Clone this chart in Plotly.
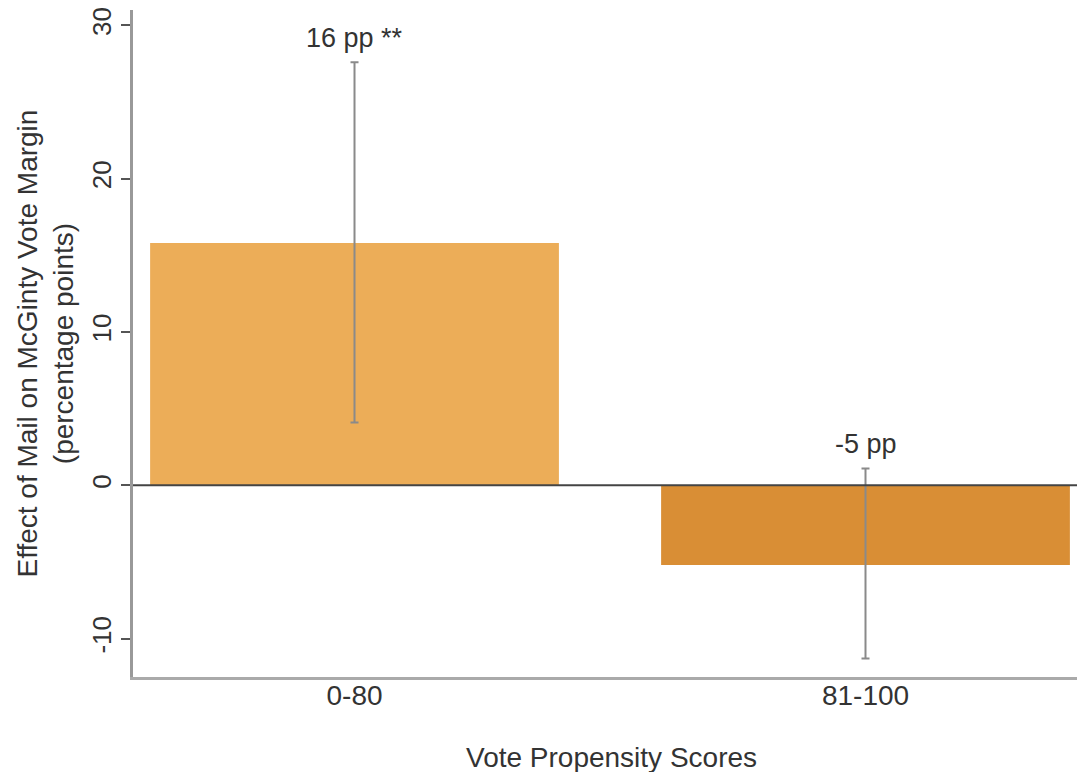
import plotly.graph_objects as go

# Effect estimates by vote-propensity group, with 95% interval bounds
groups = ["0-80", "81-100"]
effects = [15.8, -5.2]
upper = [27.6, 1.1]
lower = [4.1, -11.3]
stars = ["**", ""]
bar_colors = ["#ECAD58", "#D98E35"]

# Y-axis ticks (hyphen minus, as typeset on the axis)
y_ticks = [-10, 0, 10, 20, 30]
y_tick_text = ["-10", "0", "10", "20", "30"]

err_plus = [u - e for u, e in zip(upper, effects)]
err_minus = [e - l for e, l in zip(effects, lower)]

FONT = "Liberation Sans, Arial, Helvetica, sans-serif"
TXT = "#333333"
FS = 28

fig = go.Figure()
fig.add_trace(go.Bar(
    x=groups,
    y=effects,
    width=0.8,
    marker=dict(color=bar_colors, line=dict(width=0)),
    error_y=dict(
        type="data",
        symmetric=False,
        array=err_plus,
        arrayminus=err_minus,
        color="#8a8a8a",
        thickness=2,
        width=4,
    ),
    hoverinfo="skip",
))

# Value labels above the interval tops
for g, e, u, s in zip(groups, effects, upper, stars):
    label = f"{round(e)} pp" + (f" {s}" if s else "")
    fig.add_annotation(
        x=g, y=u, xref="x", yref="y",
        text=label, showarrow=False,
        yanchor="bottom", yshift=7,
        font=dict(family=FONT, size=27, color=TXT),
    )

# Reference line at zero drawn over the bars
fig.add_shape(
    type="line", xref="paper", yref="y",
    x0=0, x1=1, y0=0, y1=0,
    line=dict(color="#444444", width=2),
    layer="above",
)

# Axis titles
fig.add_annotation(
    text="Effect of Mail on McGinty Vote Margin<br>(percentage points)",
    xref="paper", yref="paper", x=0, y=0.5,
    xanchor="center", yanchor="middle",
    xshift=-88, textangle=-90, showarrow=False,
    font=dict(family=FONT, size=FS, color=TXT),
)
fig.add_annotation(
    text="Vote Propensity Scores",
    xref="paper", yref="paper", x=0.5, y=0,
    xanchor="center", yanchor="middle",
    xshift=6, yshift=-80, showarrow=False,
    font=dict(family=FONT, size=FS, color=TXT),
)

fig.update_layout(
    width=1077, height=772,
    margin=dict(l=133, r=0, t=10, b=95),
    plot_bgcolor="white", paper_bgcolor="white",
    showlegend=False,
    bargap=0.2,
    font=dict(family=FONT, size=FS, color=TXT),
)
fig.update_xaxes(
    type="category",
    range=[-0.4335, 1.4139],
    showline=True, linecolor="#aaaaaa", linewidth=3,
    ticks="", showgrid=False, zeroline=False,
    tickfont=dict(family=FONT, size=FS, color=TXT),
    ticklabelstandoff=-9,
    fixedrange=True,
)
fig.update_yaxes(
    range=[-12.5, 31.0],
    tickvals=y_ticks,
    ticktext=y_tick_text,
    tickangle=-90,
    showline=True, linecolor="#999999", linewidth=3,
    ticks="outside", ticklen=9, tickwidth=1.5, tickcolor="#555555",
    showgrid=False, zeroline=False,
    tickfont=dict(family=FONT, size=26, color=TXT),
    fixedrange=True,
)

fig.write_html("out.html")
